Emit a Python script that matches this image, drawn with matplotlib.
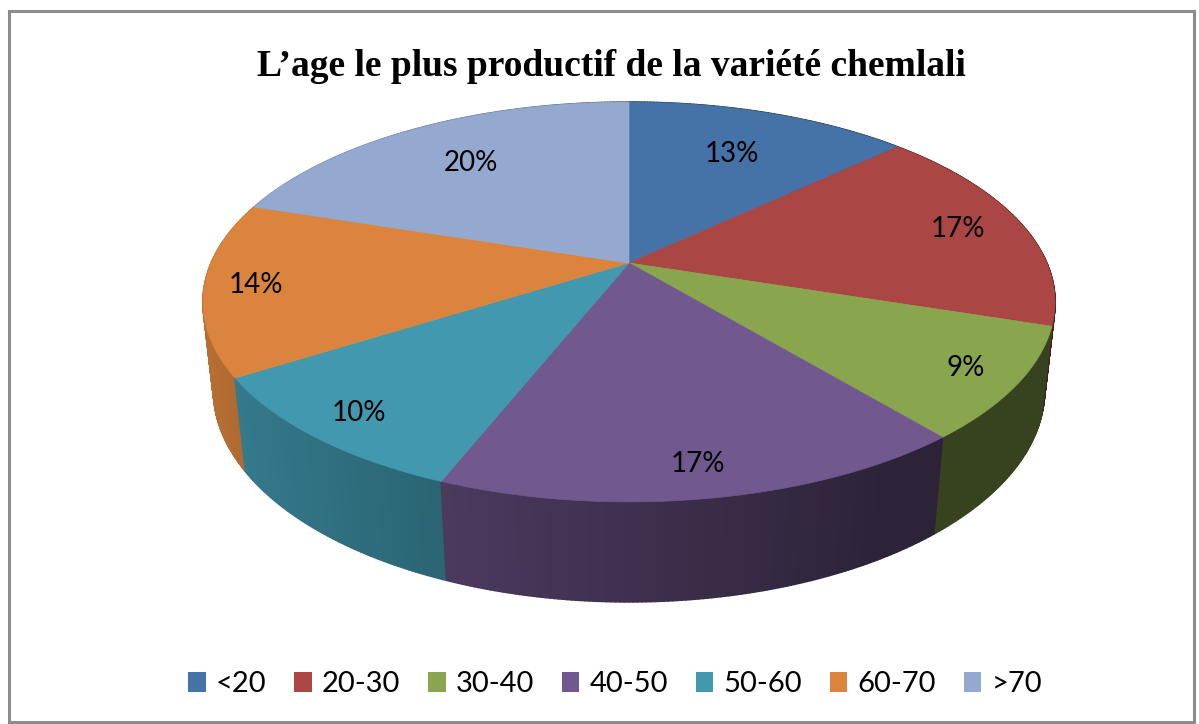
import numpy as np
import matplotlib
matplotlib.use("Agg")
import matplotlib.pyplot as plt
from matplotlib.patches import Patch, Rectangle
from matplotlib.collections import PolyCollection

# Share of trees by age class
age_classes = ["<20", "20-30", "30-40", "40-50", "50-60", "60-70", ">70"]
shares = [13, 17, 9, 17, 10, 14, 20]
slice_colors = ["#4572A7", "#AA4643", "#89A54E", "#71588F",
                "#4198AF", "#DB843D", "#93A9CF"]
title = "L\u2019age le plus productif de la variété chemlali"

# 3D pie view (canvas is laid out in pixel units)
CX, CY = 629, 263
FOCAL = 1902.0
DIST = 4.552
ELEV = np.radians(27.4)
DEPTH = 0.239
LABEL_R = 0.88


def project(theta, r=1.0, y=0.0):
    x = r * np.cos(theta)
    z = -r * np.sin(theta)
    yc = y * np.cos(ELEV) - z * np.sin(ELEV)
    d = DIST - (y * np.sin(ELEV) + z * np.cos(ELEV))
    return CX + FOCAL * x / d, CY - FOCAL * yc / d


def shade(color, theta):
    k = max(0.40, 0.55 - 0.30 * np.cos(theta))
    rgb = np.array(matplotlib.colors.to_rgb(color))
    return tuple(rgb * k)


fig = plt.figure(figsize=(11.99, 7.24), dpi=100)
ax = fig.add_axes([0, 0, 1, 1])
ax.set_xlim(0, 1199)
ax.set_ylim(724, 0)
ax.axis("off")

total = float(sum(shares))
bounds = np.radians(90 - 360 * np.concatenate([[0], np.cumsum(shares)]) / total)

# side walls, painted back to front
quads, qcols, qdepth = [], [], []
for i, col in enumerate(slice_colors):
    a, b = bounds[i], bounds[i + 1]
    n = max(4, int(abs(a - b) / np.radians(0.5)))
    ts = np.linspace(a, b, n + 1)
    for t0, t1 in zip(ts[:-1], ts[1:]):
        p0 = project(t0)
        p1 = project(t1)
        q1 = project(t1, y=-DEPTH)
        q0 = project(t0, y=-DEPTH)
        quads.append([p0, p1, q1, q0])
        tm = 0.5 * (t0 + t1)
        qcols.append(shade(col, tm))
        qdepth.append(-np.sin(tm))
order = np.argsort(qdepth)
walls = PolyCollection([quads[j] for j in order],
                       facecolors=[qcols[j] for j in order],
                       edgecolors=[qcols[j] for j in order],
                       linewidths=1.2)
ax.add_collection(walls)

# top face wedges
for i, col in enumerate(slice_colors):
    a, b = bounds[i], bounds[i + 1]
    ts = np.linspace(a, b, 200)
    xs, ys = project(ts)
    px = np.concatenate([[CX], xs])
    py = np.concatenate([[CY], ys])
    ax.fill(px, py, color=col, lw=0.5, ec=col)

# percentage labels, pulled in a bit on the far side of the pie
for i, v in enumerate(shares):
    tm = 0.5 * (bounds[i] + bounds[i + 1])
    r = LABEL_R - 0.2 * max(0.0, np.sin(tm))
    lx, ly = project(tm, r=r)
    ax.text(lx, ly, f"{v}%", ha="center", va="center",
            fontsize=20, family="Lato", color="black")

ax.text(611, 66, title, ha="center", va="center", fontsize=27,
        family="Liberation Serif", fontweight="bold")

ax.add_patch(Rectangle((8.5, 10.5), 1185, 711, fill=False,
                       ec="#8C8C8C", lw=2.2))

handles = [Patch(facecolor=c, edgecolor="none", label=l)
           for c, l in zip(slice_colors, age_classes)]
fig.legend(handles=handles, loc="center", bbox_to_anchor=(0.513, 0.055),
           ncol=7, frameon=False, prop={"family": "Lato", "size": 21},
           handlelength=0.6, handleheight=0.7, handletextpad=0.35,
           columnspacing=0.95)

fig.savefig("out.png", dpi=100)
